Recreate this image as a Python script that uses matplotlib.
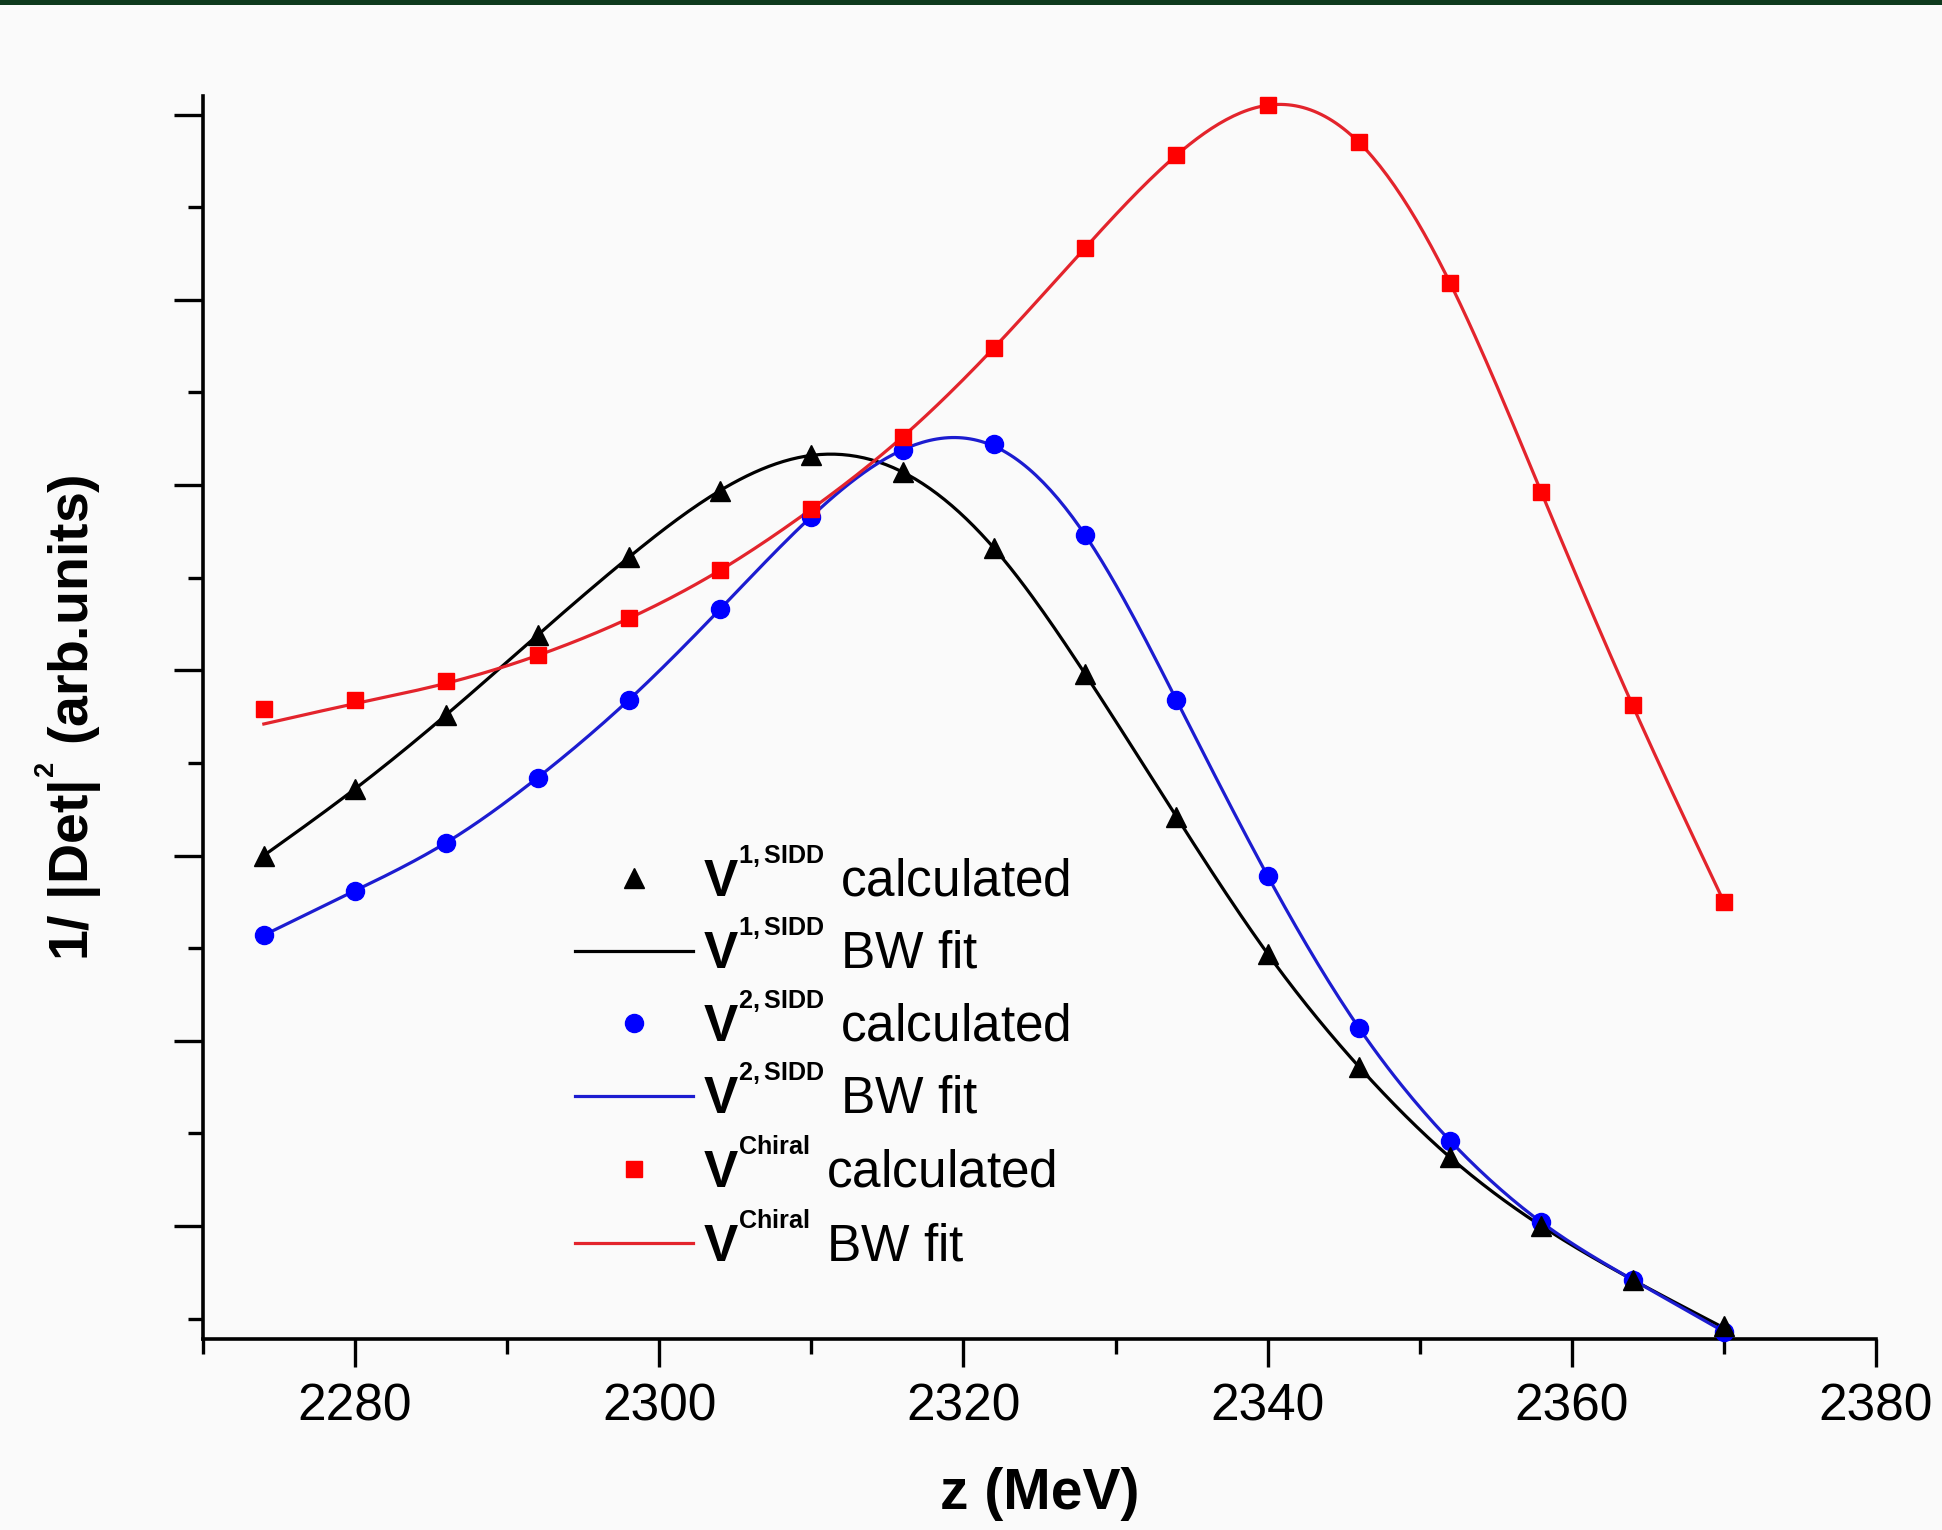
import numpy as np
import matplotlib
matplotlib.use("Agg")
import matplotlib.pyplot as plt
from matplotlib.patches import Rectangle
from matplotlib.ticker import MultipleLocator, FixedLocator, NullFormatter

# ---------------- data ----------------
z_mev = [2274, 2280, 2286, 2292, 2298, 2304, 2310, 2316, 2322,
         2328, 2334, 2340, 2346, 2352, 2358, 2364, 2370]

v1_sidd_calc = [3.00, 3.36, 3.76, 4.19, 4.61, 4.97, 5.16, 5.07, 4.66,
                3.98, 3.21, 2.47, 1.86, 1.37, 1.00, 0.71, 0.46]
v1_sidd_fit = [3.00, 3.36, 3.76, 4.19, 4.61, 4.97, 5.16, 5.07, 4.66,
               3.98, 3.21, 2.47, 1.86, 1.37, 1.00, 0.71, 0.45]

v2_sidd_calc = [2.57, 2.81, 3.07, 3.42, 3.84, 4.33, 4.83, 5.19, 5.22,
                4.73, 3.84, 2.89, 2.07, 1.46, 1.02, 0.71, 0.43]
v2_sidd_fit = [2.57, 2.81, 3.07, 3.42, 3.84, 4.33, 4.83, 5.19, 5.21,
               4.73, 3.84, 2.89, 2.07, 1.46, 1.02, 0.71, 0.43]

chiral_calc = [3.79, 3.84, 3.94, 4.08, 4.28, 4.54, 4.87, 5.26, 5.74,
               6.28, 6.78, 7.05, 6.85, 6.09, 4.96, 3.81, 2.75]
chiral_fit = [3.71, 3.82, 3.93, 4.08, 4.28, 4.54, 4.87, 5.26, 5.74,
              6.28, 6.78, 7.05, 6.85, 6.09, 4.96, 3.81, 2.75]

x_major_ticks = [2280, 2300, 2320, 2340, 2360, 2380]
x_tick_labels = ["2280", "2300", "2320", "2340", "2360", "2380"]

labels = [r"$\mathbf{V}^{{}^{\mathbf{1,SIDD}}}$ calculated",
          r"$\mathbf{V}^{{}^{\mathbf{1,SIDD}}}$ BW fit",
          r"$\mathbf{V}^{{}^{\mathbf{2,SIDD}}}$ calculated",
          r"$\mathbf{V}^{{}^{\mathbf{2,SIDD}}}$ BW fit",
          r"$\mathbf{V}^{{}^{\mathbf{Chiral}}}$ calculated",
          r"$\mathbf{V}^{{}^{\mathbf{Chiral}}}$ BW fit"]


def smooth(x, y, n=400):
    """Natural cubic spline used only to render the fitted curve smoothly."""
    x = np.asarray(x, float)
    y = np.asarray(y, float)
    m = len(x)
    h = np.diff(x)
    A = np.zeros((m, m))
    r = np.zeros(m)
    A[0, 0] = A[-1, -1] = 1.0
    for i in range(1, m - 1):
        A[i, i - 1] = h[i - 1]
        A[i, i] = 2 * (h[i - 1] + h[i])
        A[i, i + 1] = h[i]
        r[i] = 3 * ((y[i + 1] - y[i]) / h[i] - (y[i] - y[i - 1]) / h[i - 1])
    c = np.linalg.solve(A, r)
    b = (y[1:] - y[:-1]) / h - h * (2 * c[:-1] + c[1:]) / 3
    d = (c[1:] - c[:-1]) / (3 * h)
    xs = np.linspace(x[0], x[-1], n)
    idx = np.clip(np.searchsorted(x, xs) - 1, 0, m - 2)
    t = xs - x[idx]
    ys = y[idx] + b[idx] * t + c[idx] * t ** 2 + d[idx] * t ** 3
    return xs, ys


# ---------------- style ----------------
plt.rcParams["font.family"] = ["Liberation Sans", "DejaVu Sans"]
plt.rcParams["mathtext.fontset"] = "custom"
plt.rcParams["mathtext.rm"] = "Liberation Sans"
plt.rcParams["mathtext.bf"] = "Liberation Sans:bold"
plt.rcParams["mathtext.it"] = "Liberation Sans:italic"

bg = "#fafafa"
fig = plt.figure(figsize=(19.42, 15.30), dpi=100, facecolor=bg)
ax = fig.add_axes([203 / 1942, 191 / 1530, 1673 / 1942, 1243 / 1530])
ax.set_facecolor(bg)

# top dark-green band
fig.patches.append(Rectangle((0, 1 - 5 / 1530), 1, 5 / 1530, transform=fig.transFigure,
                             facecolor="#0e3a1d", edgecolor="none", zorder=10))

lw = 2.3
# black
xs, ys = smooth(z_mev, v1_sidd_fit)
l1, = ax.plot(xs, ys, color="black", lw=lw, zorder=3)
m1, = ax.plot(z_mev, v1_sidd_calc, ls="none", marker="^", ms=15, color="black",
              zorder=6, clip_on=False)
# blue
xs, ys = smooth(z_mev, v2_sidd_fit)
l2, = ax.plot(xs, ys, color="#1c1cd0", lw=lw, zorder=3)
m2, = ax.plot(z_mev, v2_sidd_calc, ls="none", marker="o", ms=13, color="#0000ff",
              zorder=5, clip_on=False)
# red
xs, ys = smooth(z_mev, chiral_fit)
l3, = ax.plot(xs, ys, color="#e3242c", lw=lw, zorder=4)
m3, = ax.plot(z_mev, chiral_calc, ls="none", marker="s", ms=11, color="#ff0000",
              zorder=7, clip_on=False)

ax.set_xlim(2270, 2380)
ax.set_ylim(0.39, 7.10)

for s in ["top", "right"]:
    ax.spines[s].set_visible(False)
for s in ["left", "bottom"]:
    ax.spines[s].set_linewidth(2.6)

ax.xaxis.set_major_locator(FixedLocator(x_major_ticks))
ax.set_xticklabels(x_tick_labels)
ax.xaxis.set_minor_locator(MultipleLocator(10))
ax.yaxis.set_major_locator(MultipleLocator(1))
ax.yaxis.set_minor_locator(MultipleLocator(0.5))
ax.yaxis.set_major_formatter(NullFormatter())
ax.tick_params(axis="x", which="major", direction="out", length=20, width=2.4,
               labelsize=37, pad=11)
ax.tick_params(axis="y", which="major", direction="out", length=21, width=2.4)
ax.tick_params(axis="both", which="minor", direction="out", length=11, width=2.4)
ax.tick_params(axis="y", which="both", labelleft=False)

ax.set_xlabel("z (MeV)", fontsize=41, fontweight="bold")
ax.xaxis.set_label_coords(0.5, -0.103)
ax.set_ylabel(r"1/ |Det|$^{{}^{\mathbf{2}}}$ (arb.units)", fontsize=40, fontweight="bold")
ax.yaxis.set_label_coords(-0.059, 0.5)

leg = ax.legend([m1, l1, m2, l2, m3, l3], labels, loc="upper left",
                bbox_to_anchor=(575 / 1942, 1 - 852 / 1530),
                bbox_transform=fig.transFigure, frameon=False, fontsize=37,
                handlelength=2.3, handletextpad=0.2, labelspacing=0.33,
                borderpad=0, borderaxespad=0, markerscale=1.0)

fig.savefig("out.png", dpi=100, facecolor=bg)
